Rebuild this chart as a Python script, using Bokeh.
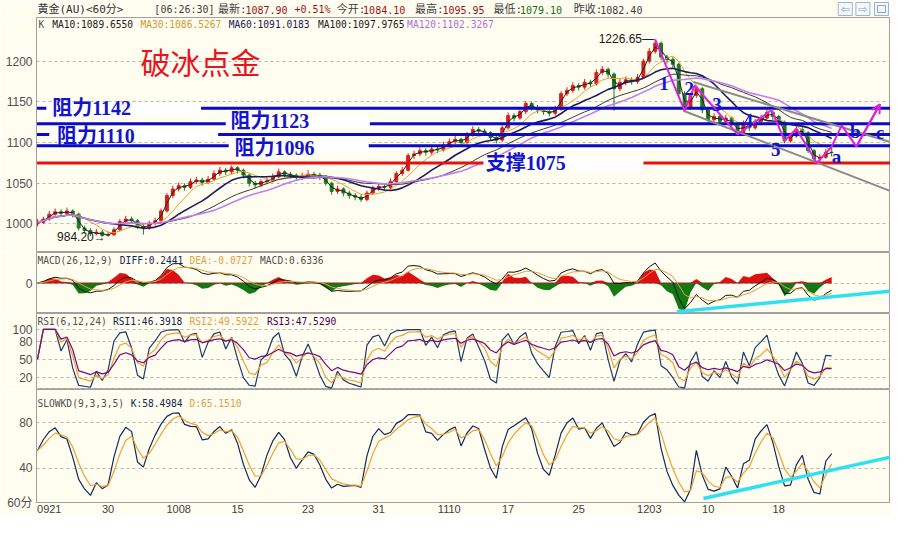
import numpy as np
import pandas as pd
from bokeh.plotting import figure
from bokeh.layouts import column
from bokeh.models import Range1d, FixedTicker, Label, ColumnDataSource, Arrow, OpenHead
from bokeh.core.properties import value
from bokeh.embed import file_html
from bokeh.resources import INLINE

# ---------------- data ----------------
closes = [1002,1006,1012,1015,1013,1016,1012,995,992,988,
          990,986,987,993,1003,1006,1004,997,995,1001,
          1004,1016,1035,1043,1047,1045,1052,1054,1051,1055,
          1062,1066,1064,1069,1066,1060,1050,1048,1052,1053,
          1058,1064,1061,1060,1057,1059,1061,1060,1058,1050,
          1040,1043,1038,1035,1033,1030,1038,1044,1046,1045,
          1052,1062,1066,1084,1086,1090,1088,1092,1091,1097,
          1101,1104,1100,1110,1116,1114,1112,1106,1103,1118,
          1133,1130,1138,1148,1143,1140,1138,1136,1141,1160,
          1164,1170,1168,1174,1172,1186,1190,1184,1166,1174,
          1177,1175,1180,1200,1212,1222,1205,1202,1196,1160,
          1142,1158,1166,1140,1128,1132,1126,1130,1122,1112,
          1124,1118,1126,1130,1137,1132,1125,1102,1108,1116,
          1112,1090,1080,1082,1088,1087.9]
highs = [1006,1009,1016,1019,1018,1020,1018,1014,998,995,
         994,993,991,996,1006,1010,1009,1006,1000,1004,
         1008,1019,1038,1047,1051,1050,1056,1058,1057,1059,
         1066,1070,1069,1072,1071,1068,1062,1053,1055,1057,
         1062,1068,1066,1064,1062,1063,1066,1064,1063,1060,
         1052,1047,1045,1041,1038,1036,1041,1047,1050,1049,
         1056,1065,1070,1087,1090,1094,1093,1096,1095,1101,
         1105,1108,1106,1113,1120,1119,1117,1114,1109,1121,
         1137,1136,1142,1151,1150,1146,1143,1141,1145,1163,
         1168,1174,1173,1178,1177,1190,1194,1192,1186,1178,
         1181,1180,1184,1203,1216,1226.65,1224,1208,1205,1198,
         1163,1161,1169,1168,1142,1136,1134,1134,1132,1125,
         1127,1126,1129,1134,1141,1139,1134,1127,1112,1120,
         1119,1114,1092,1086,1092,1095.95]
lows = [997,1000,1004,1010,1009,1011,1008,992,988,985,
        986,984.2,984.5,985,991,1000,1000,994,987,993,
        998,1002,1014,1032,1040,1041,1043,1049,1047,1049,
        1053,1059,1060,1061,1062,1056,1046,1044,1045,1049,
        1051,1056,1057,1056,1053,1054,1056,1056,1054,1047,
        1036,1037,1034,1031,1029,1027,1028,1036,1041,1041,
        1043,1050,1059,1064,1080,1083,1084,1085,1087,1089,
        1094,1098,1096,1098,1107,1110,1108,1102,1099,1101,
        1116,1126,1128,1135,1139,1136,1134,1132,1133,1139,
        1157,1161,1164,1165,1168,1170,1183,1180,1139,1163,
        1170,1171,1172,1178,1197,1209,1201,1197,1192,1156,
        1139,1140,1155,1136,1124,1125,1121,1123,1118,1109,
        1110,1114,1116,1124,1128,1128,1121,1099,1100,1106,
        1108,1087,1077,1076,1080,1083]
first_open = 1000
opens = [first_open] + closes[:-1]

ma_names = ["MA10", "MA30", "MA60", "MA100", "MA120"]
ma_last = ["1089.6550", "1086.5267", "1091.0183", "1097.9765", "1102.3267"]
ma_windows = [2, 6, 12, 20, 24]          # bar windows on this coarser bar grid

levels = [1142, 1123, 1110, 1096, 1075]
level_labels = ["阻力1142", "阻力1123", "阻力1110", "阻力1096", "支撑1075"]

wave_x = [105, 110, 111.7, 119, 124.8, 127, 129, 132.5, 135, 136.7, 139.2, 143.2]
wave_y = [1226.65, 1139, 1170, 1110, 1140, 1102, 1117, 1075, 1095, 1121, 1095, 1147]
wave_labels = ["1", "2", "3", "4", "5", "a", "b", "c"]
wave_label_x = [106.5, 110.8, 115.5, 120.8, 125.5, 135.8, 139, 143.2]
wave_label_y = [1172, 1166, 1147, 1127, 1092, 1083, 1113, 1112]
channel_up_x, channel_up_y = [111.5, 144.8], [1174.4, 1101]
channel_lo_x, channel_lo_y = [109.8, 144.8], [1139, 1041]
kd_trend_x, kd_trend_y = [113.2, 145], [13.3, 49.8]
macd_trend_x, macd_trend_frac = [108.7, 145], [-0.94, -0.27]

date_ticks = [2, 12, 24, 34, 46, 58, 70, 80, 92, 104, 114, 126]
date_labels = ["0921", "30", "1008", "15", "23", "31", "1110", "17", "25", "1203", "10", "18"]
period_label = "60分"

header_text = ["黄金(AU)<60分>", "[06:26:30]", "最新:", "1087.90", "+0.51%", "今开:", "1084.10",
               "最高:", "1095.95", "最低:", "1079.10", "昨收:", "1082.40"]

# ---------------- derived indicators ----------------
c = pd.Series(closes, dtype=float)
h = pd.Series(highs, dtype=float)
l = pd.Series(lows, dtype=float)
idx = np.arange(len(closes))
mas = [c.rolling(w, min_periods=1).mean() for w in ma_windows]

ema_f = c.ewm(span=3, adjust=False).mean()
ema_s = c.ewm(span=6, adjust=False).mean()
diff = ema_f - ema_s
dea = diff.ewm(span=4, adjust=False).mean()
hist = 2 * (diff - dea)
m = float(max(diff.abs().max(), hist.abs().max())) * 1.08

def rsi(n):
    d = c.diff().fillna(0)
    up = d.clip(lower=0).ewm(alpha=1.0 / n, adjust=False).mean()
    ab = d.abs().ewm(alpha=1.0 / n, adjust=False).mean()
    return (up / ab.replace(0, np.nan) * 100).fillna(50)
rsi1, rsi2, rsi3 = rsi(2), rsi(4), rsi(9)

llv = l.rolling(3, min_periods=1).min()
hhv = h.rolling(3, min_periods=1).max()
rsv = (c - llv) / (hhv - llv) * 100
kk = rsv.ewm(alpha=0.5, adjust=False).mean()
dd = kk.ewm(alpha=0.5, adjust=False).mean()

# ---------------- style ----------------
BG = "#FFFDF0"
GRID = "#B8B8B0"
FRAME = "#A0A0A0"
LEFT = 36
FW = 854
SX = FW / 871.0
MONO = "DejaVu Sans Mono"
MIX = value("'DejaVu Sans Mono', 'Noto Sans CJK SC'")
LBL = value("'Liberation Serif', 'Noto Sans CJK SC'")
xr = Range1d(-0.17, 145)

def panel(height, yr, yticks, gridticks, bottom=False):
    p = figure(width=LEFT + FW, height=height, x_range=xr, y_range=yr,
               output_backend="svg", toolbar_location=None, tools="",
               x_axis_location="below" if bottom else None, y_axis_location="left",
               min_border=0, min_border_left=LEFT)
    p.background_fill_color = BG
    p.border_fill_color = BG
    p.outline_line_color = FRAME
    p.xgrid.visible = False
    p.ygrid.ticker = FixedTicker(ticks=gridticks)
    p.ygrid.grid_line_color = GRID
    p.ygrid.grid_line_dash = "3 3"
    ax = p.yaxis[0]
    ax.ticker = FixedTicker(ticks=yticks)
    ax.major_tick_out = 0
    ax.major_tick_in = 0
    ax.minor_tick_out = 0
    ax.minor_tick_in = 0
    ax.axis_line_color = FRAME
    ax.major_label_text_font = "Liberation Sans"
    ax.major_label_text_font_size = "12px"
    ax.major_label_text_color = "#505050"
    ax.major_label_standoff = 4
    return p

def info(p, frame_h, top_ref, sy, items, size="9.6px"):
    for xr_, yr_, t, col in items:
        p.add_layout(Label(x=(xr_ - 37) * SX, y=frame_h - (yr_ - top_ref) * sy,
                           x_units="screen", y_units="screen", text=t, text_color=col,
                           text_font=MONO, text_font_size=size, text_baseline="middle"))

# ---------------- header (frame aligned with the panels below) ----------------
hdr = figure(width=LEFT + FW, height=17, x_range=Range1d(0, FW), y_range=Range1d(17, 0),
             output_backend="svg", toolbar_location=None, tools="",
             x_axis_location=None, y_axis_location=None, min_border=0, min_border_left=LEFT)
hdr.background_fill_color = BG
hdr.border_fill_color = BG
hdr.outline_line_color = None
hdr.grid.visible = False
hx = [1, 157 * 0.98 - LEFT] + [v * 0.98 - LEFT for v in
                               [222, 250, 300, 343, 370, 423, 451, 503, 530, 585, 612]]
hcol = ["#303030", "#404040", "#404040", "#A01010", "#A01010", "#404040", "#A01010",
        "#404040", "#A01010", "#404040", "#107010", "#404040", "#404040"]
hsize = ["11px" if any(ord(ch) > 255 for ch in t) else "10px" for t in header_text]
hdr.text(x=hx, y=[9] * len(hx), text=header_text, text_color=hcol,
         text_font=MIX, text_font_size=hsize, text_baseline="middle")
icon_x = [v * 0.98 - LEFT for v in [862, 880, 899]]
hdr.rect(x=icon_x, y=[8.5] * 3, width=14, height=13, fill_color="#F4F8FC", line_color="#9CB4D4")
hdr.text(x=icon_x[:2], y=[8.5, 8.5], text=["⇦", "⇨"], text_color="#8CA4C8",
         text_font=value("DejaVu Sans"), text_font_size="11px", text_align="center",
         text_baseline="middle")
hdr.rect(x=icon_x[2:], y=[8.5], width=8, height=7, fill_color=None, line_color="#8CA4C8")

# ---------------- main price panel ----------------
MH = 235
main = panel(MH, Range1d(965, 1253.5), [1000, 1050, 1100, 1150, 1200],
             [1000, 1050, 1100, 1150, 1200])
up = [cc >= oo for cc, oo in zip(closes, opens)]
ccol = ["#D8201A" if u else "#1E7A22" for u in up]
src = ColumnDataSource(dict(x=idx, o=opens, c=closes, h=highs, l=lows,
                            top=np.maximum(opens, closes), bot=np.minimum(opens, closes), col=ccol))
main.segment(x0="x", y0="l", x1="x", y1="h", color="col", line_width=1, source=src)
main.vbar(x="x", top="top", bottom="bot", width=0.5, fill_color="col", line_color="col", source=src)
ma_colors = ["#202020", "#E0A030", "#1A1A60", "#3A3A3A", "#C080F0"]
ma_widths = [1, 1, 1.6, 1, 1.6]
for s, col, w in zip(mas, ma_colors, ma_widths):
    main.line(idx, s.values, line_color=col, line_width=w)

lv_colors = ["#0A0AC8"] * 4 + ["#E81010"]
main.segment(x0=[xr.start] * 5, x1=[xr.end] * 5, y0=levels, y1=levels,
             line_color=lv_colors, line_width=3)
box_l = [1.5, 32, 2, 32.5, 75.8]
box_r = [27.8, 56.5, 30.7, 56.3, 103]
box_t = [1148.3, 1133, 1116.4, 1103.3, 1083.3]
box_b = [1134.2, 1117.6, 1101, 1088, 1064.4]
main.quad(left=box_l, right=box_r, top=box_t, bottom=box_b, fill_color="white", line_color=None)
lab_x = [2.5, 32.8, 3.3, 33.5, 76.2]
lab_dy = [0, 4, -2, -3, 0]
main.text(x=lab_x, y=[v + d for v, d in zip(levels, lab_dy)], text=level_labels,
          text_color="#1414C8", text_font=LBL, text_font_style="bold",
          text_font_size="20px", text_baseline="middle")
main.text(x=[27.7], y=[1200], text=["破冰点金"], text_color="#E8141E",
          text_font=value("Noto Sans CJK SC"), text_font_size="30px",
          text_align="center", text_baseline="middle")
main.line(channel_up_x, channel_up_y, line_color="#8A8A8A", line_width=2)
main.line(channel_lo_x, channel_lo_y, line_color="#8A8A8A", line_width=2)
main.line(wave_x, wave_y, line_color="#E020E0", line_width=2)
main.add_layout(Arrow(end=OpenHead(size=9, line_color="#E020E0", line_width=2),
                      x_start=wave_x[-2], y_start=wave_y[-2], x_end=wave_x[-1], y_end=wave_y[-1],
                      line_color="#E020E0", line_width=2))
main.text(x=wave_label_x, y=wave_label_y, text=wave_labels, text_color="#1414D2",
          text_font=value("Liberation Serif"), text_font_style="bold", text_font_size="19px",
          text_align="center", text_baseline="middle")
main.text(x=[11.6, 104.8], y=[984.2, 1226.65], text=["984.20→", "1226.65—"],
          text_color="#202020", text_font=value("Liberation Sans"), text_font_size="12px",
          text_align="right", text_baseline="middle")
info(main, MH, 18, MH / 244.0,
     [(39, 25, "K", "#505050")] +
     [(x0, 25, f"{n}:{v}", col) for x0, n, v, col in
      zip([53, 143, 233, 324, 415], ma_names, ma_last,
          ["#202020", "#D09A30", "#1A1A50", "#202020", "#B070E0"])])

# ---------------- MACD panel ----------------
KH = 61
macd = panel(KH, Range1d(-m, m), [0], [0])
macd.varea(x=idx, y1=np.zeros(len(idx)), y2=np.where(hist > 0, hist, 0), fill_color="#E01010")
macd.varea(x=idx, y1=np.where(hist < 0, hist, 0), y2=np.zeros(len(idx)), fill_color="#137A13")
macd.line([idx[0], idx[-1]], [0, 0], line_color="#A02020", line_width=1)
macd.line(idx, diff.values, line_color="#101010", line_width=1)
macd.line(idx, dea.values, line_color="#E0A040", line_width=1)
macd.line(macd_trend_x, [f * m for f in macd_trend_frac], line_color="#30E0F0", line_width=3.5)
info(macd, KH, 262, KH / 63.0,
     [(38, 270, "MACD(26,12,9)", "#505050"), (122, 270, "DIFF:0.2441", "#102A50"),
      (193, 270, "DEA:-0.0727", "#E0A040"), (265, 270, "MACD:0.6336", "#505050")])

# ---------------- RSI panel ----------------
RH = 76
rp = panel(RH, Range1d(-1, 126.7), [20, 50, 80, 100], [0, 20, 50, 80, 100])
rp.line(idx, rsi1.values, line_color="#1A3A6A", line_width=1.2)
rp.line(idx, rsi2.values, line_color="#F0A030", line_width=1.2)
rp.line(idx, rsi3.values, line_color="#7A0A7A", line_width=1.2)
info(rp, RH, 325, RH / 79.0,
     [(38, 333, "RSI(6,12,24)", "#505050"), (115, 333, "RSI1:46.3918", "#102A50"),
      (193, 333, "RSI2:49.5922", "#E0A040"), (272, 333, "RSI3:47.5290", "#500050")])

# ---------------- SLOWKD panel with the date axis ----------------
DH = 126
kd_low = 9.8
kd = panel(DH, Range1d(kd_low, 109.3), [kd_low, 40, 80], [40, 80], bottom=True)
kd.yaxis[0].major_label_overrides = {kd_low: period_label}
kd.yaxis[0].major_label_text_font = "'Liberation Sans', 'Noto Sans CJK SC'"
kd.line(idx, kk.values, line_color="#102A5A", line_width=1.2)
kd.line(idx, dd.values, line_color="#F0A030", line_width=1.2)
kd.line(kd_trend_x, kd_trend_y, line_color="#30E0F0", line_width=3.5)
xa = kd.xaxis[0]
xa.ticker = FixedTicker(ticks=date_ticks)
xa.major_label_overrides = {t: s for t, s in zip(date_ticks, date_labels)}
xa.major_tick_out = 0
xa.major_tick_in = 0
xa.minor_tick_out = 0
xa.minor_tick_in = 0
xa.axis_line_color = FRAME
xa.major_label_standoff = 2
xa.major_label_text_font = "Liberation Sans"
xa.major_label_text_font_size = "11px"
xa.major_label_text_color = "#404040"
info(kd, 109, 404, 109 / 112.0,
     [(38, 414, "SLOWKD(9,3,3,5)", "#505050"), (133, 414, "K:58.4984", "#102A50"),
      (193, 414, "D:65.1510", "#E0A040")])

layout = column(hdr, main, macd, rp, kd, spacing=0)
open("out.html", "w").write(file_html(layout, INLINE))
